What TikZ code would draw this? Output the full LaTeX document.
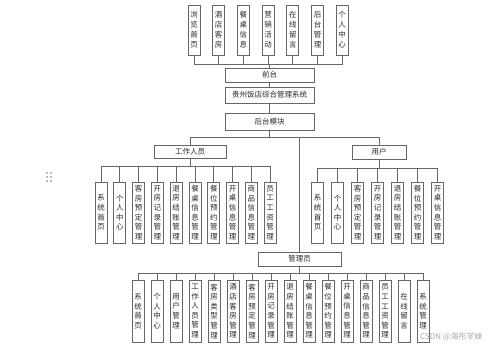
\documentclass[tikz,border=0pt]{standalone}
\usepackage{fontspec}
\newfontfamily\cjk{Noto Sans CJK SC}
\usetikzlibrary{positioning}
\tikzset{vb/.style={draw=black!60,line width=0.7pt,minimum width=12pt,minimum height=61pt,inner sep=0pt,align=center,font=\cjk\fontsize{7.5}{9.6}\selectfont,text=black!85},
 hb/.style={draw=black!60,line width=0.7pt,inner sep=0pt,align=center,font=\cjk\fontsize{7.5}{9}\selectfont,text=black!85},
 ln/.style={draw=black!60,line width=0.7pt}}
\begin{document}
\begin{tikzpicture}[x=1pt,y=-1pt]
\useasboundingbox (0,0) rectangle (499,347);
% front end
\foreach\t[count=\i from 0] in {{浏\\览\\首\\页},{酒\\店\\客\\房},{餐\\桌\\信\\息},{营\\销\\活\\动},{在\\线\\留\\言},{后\\台\\管\\理},{个\\人\\中\\心}}
 {\node[vb,minimum height=50pt,font=\cjk\fontsize{7.5}{10}\selectfont] (t\i) at ({194+24.7*\i},30) {\t};}
\node[hb,minimum width=89pt,minimum height=14pt](qt) at (269.5,75){前台};
\node[hb,minimum width=89pt,minimum height=16pt](sys) at (269.5,95){贵州饭店综合管理系统};
\node[hb,minimum width=89pt,minimum height=17pt](ht) at (269.5,121.5){后台模块};
\node[hb,minimum width=72pt,minimum height=13pt](gz) at (190,151.5){工作人员};
\node[hb,minimum width=54pt,minimum height=14pt](yh) at (379,152){用户};
\node[hb,minimum width=83pt,minimum height=14pt](gly) at (299.5,259){管理员};
% staff
\foreach\t[count=\i from 0] in {{系\\统\\首\\页},{个\\人\\中\\心},{客\\房\\预\\定\\管\\理},{开\\房\\记\\录\\管\\理},{退\\房\\结\\账\\管\\理},{餐\\桌\\信\\息\\管\\理},{餐\\位\\预\\约\\管\\理},{开\\桌\\信\\息\\管\\理},{商\\品\\信\\息\\管\\理},{员\\工\\工\\资\\管\\理}}
 {\node[vb] (s\i) at ({101+18.8*\i},212.5) {\t};}
% user
\foreach\t[count=\i from 0] in {{系\\统\\首\\页},{个\\人\\中\\心},{客\\房\\预\\定\\管\\理},{开\\房\\记\\录\\管\\理},{退\\房\\结\\账\\管\\理},{餐\\位\\预\\约\\管\\理},{开\\桌\\信\\息\\管\\理}}
 {\node[vb] (u\i) at ({317.5+20*\i},212.5) {\t};}
% admin
\foreach\t[count=\i from 0] in {{系\\统\\首\\页},{个\\人\\中\\心},{用\\户\\管\\理},{工\\作\\人\\员\\管\\理},{客\\房\\类\\型\\管\\理},{酒\\店\\客\\房\\管\\理},{客\\房\\预\\定\\管\\理},{开\\房\\记\\录\\管\\理},{退\\房\\结\\账\\管\\理},{餐\\桌\\信\\息\\管\\理},{餐\\位\\预\\约\\管\\理},{开\\桌\\信\\息\\管\\理},{商\\品\\信\\息\\管\\理},{员\\工\\工\\资\\管\\理},{在\\线\\留\\言},{系\\统\\管\\理}}
 {\node[vb,minimum height=62pt] (m\i) at ({138+19*\i},311) {\t};}
% connectors
\foreach\i in {0,...,6}{\draw[ln](qt.north)--++(0,-3)-|(t\i.south);}
\draw[ln](qt)--(sys);\draw[ln](sys)--(ht);
\foreach\x in {gz,yh,gly}{\draw[ln](ht.south)--++(0,7)-|(\x.north);}
\foreach\i in {0,...,9}{\draw[ln](gz.south)--++(0,8)-|(s\i.north);}
\foreach\i in {0,...,6}{\draw[ln](yh.south)--++(0,9)-|(u\i.north);}
\foreach\i in {0,...,15}{\draw[ln](gly.south)--++(0,7)-|(m\i.north);}
% handle and watermark
\foreach\x in {47,51}\foreach\y in {173,177,181}{\fill[black!55](\x,\y) circle (0.8);}
\node[anchor=west,inner sep=0pt,font=\cjk\fontsize{8}{8}\selectfont,text=black!35](wm) at (420,337){CSDN @海彤学妹};
\end{tikzpicture}
\end{document}
